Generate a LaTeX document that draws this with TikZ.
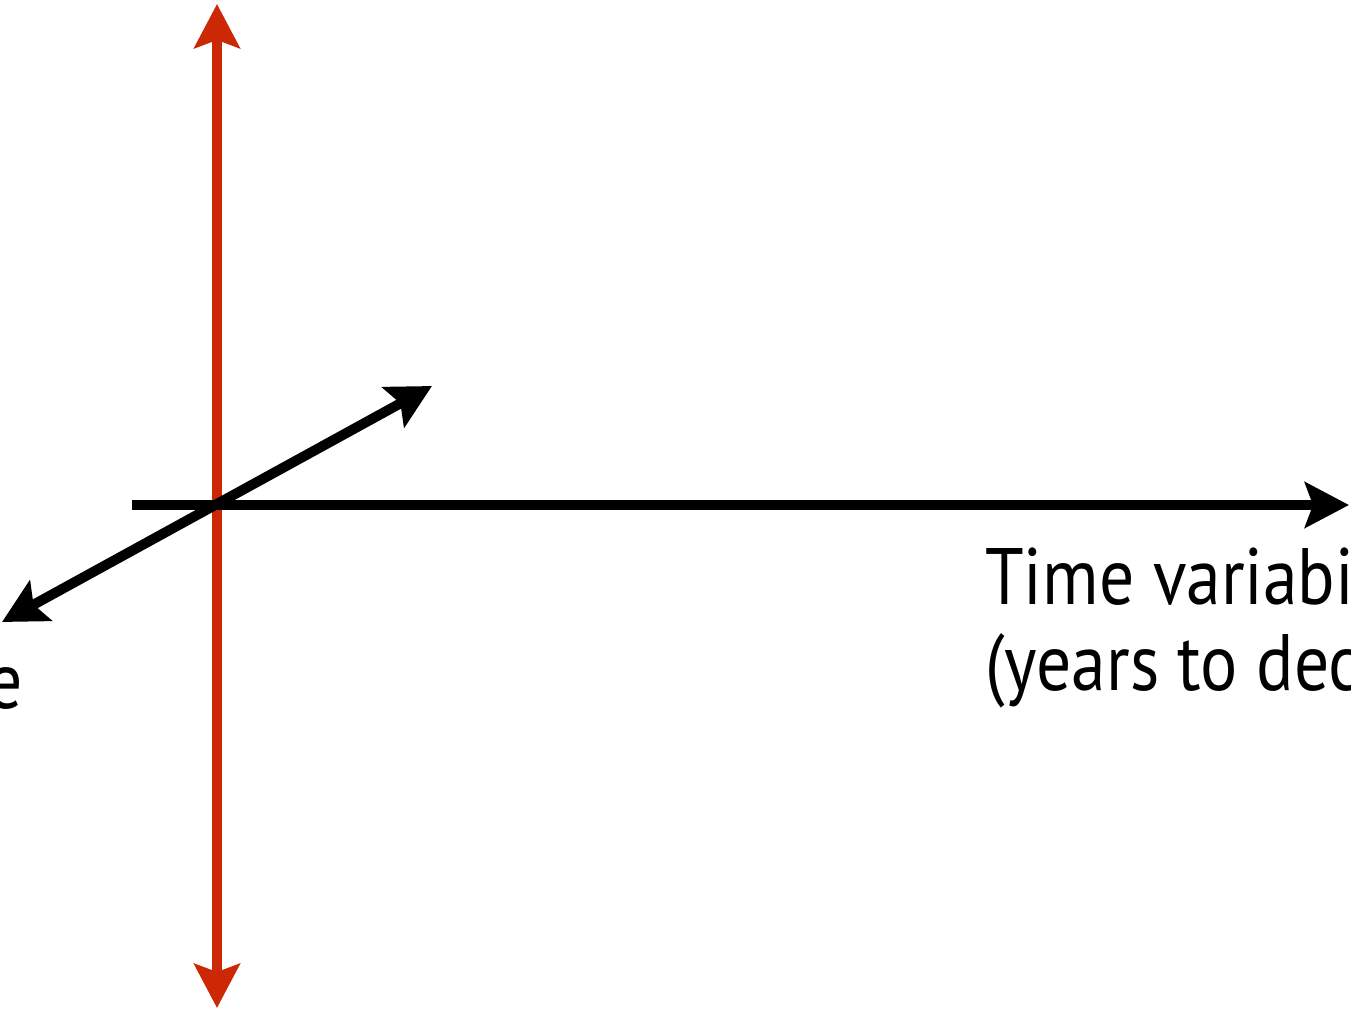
\documentclass[tikz,border=0pt]{standalone}
\usepackage{fontspec}
\setmainfont{PT Sans}[FakeStretch=0.87]
\usetikzlibrary{arrows.meta}
\definecolor{axisred}{RGB}{204,40,6}

\begin{document}
\begin{tikzpicture}[x=0.75pt, y=-0.75pt,
  axis/.style={line width=7.5pt, >={Stealth[length=33pt, width=34pt, inset=6pt]}},
  lbl/.style={inner sep=0pt, font=\fontsize{60}{60}\selectfont}]
  \useasboundingbox (0,0) rectangle (1351,1012);
  % end points of the three axes
  \coordinate (vtop) at (217,4);
  \coordinate (vbot) at (217,1008);
  \coordinate (hstart) at (132,505);
  \coordinate (hend) at (1349,505);
  \coordinate (dback) at (432,386);
  \coordinate (dfront) at (2,622);
  % red vertical axis first, black ones on top
  \draw[axis, axisred, <->] (vbot) -- (vtop);
  \draw[axis, ->] (hstart) -- (hend);
  \draw[axis, <->] (dfront) -- (dback);
  % labels, cut off by the page edge
  \node[lbl, anchor=base west] (timelbl) at (985,604) {Time variabi};
  \node[lbl, anchor=base west] (yearslbl) at (985,690) {(years to dec};
  \node[lbl, anchor=base east] (elbl) at (23,708) {e};
\end{tikzpicture}
\end{document}
